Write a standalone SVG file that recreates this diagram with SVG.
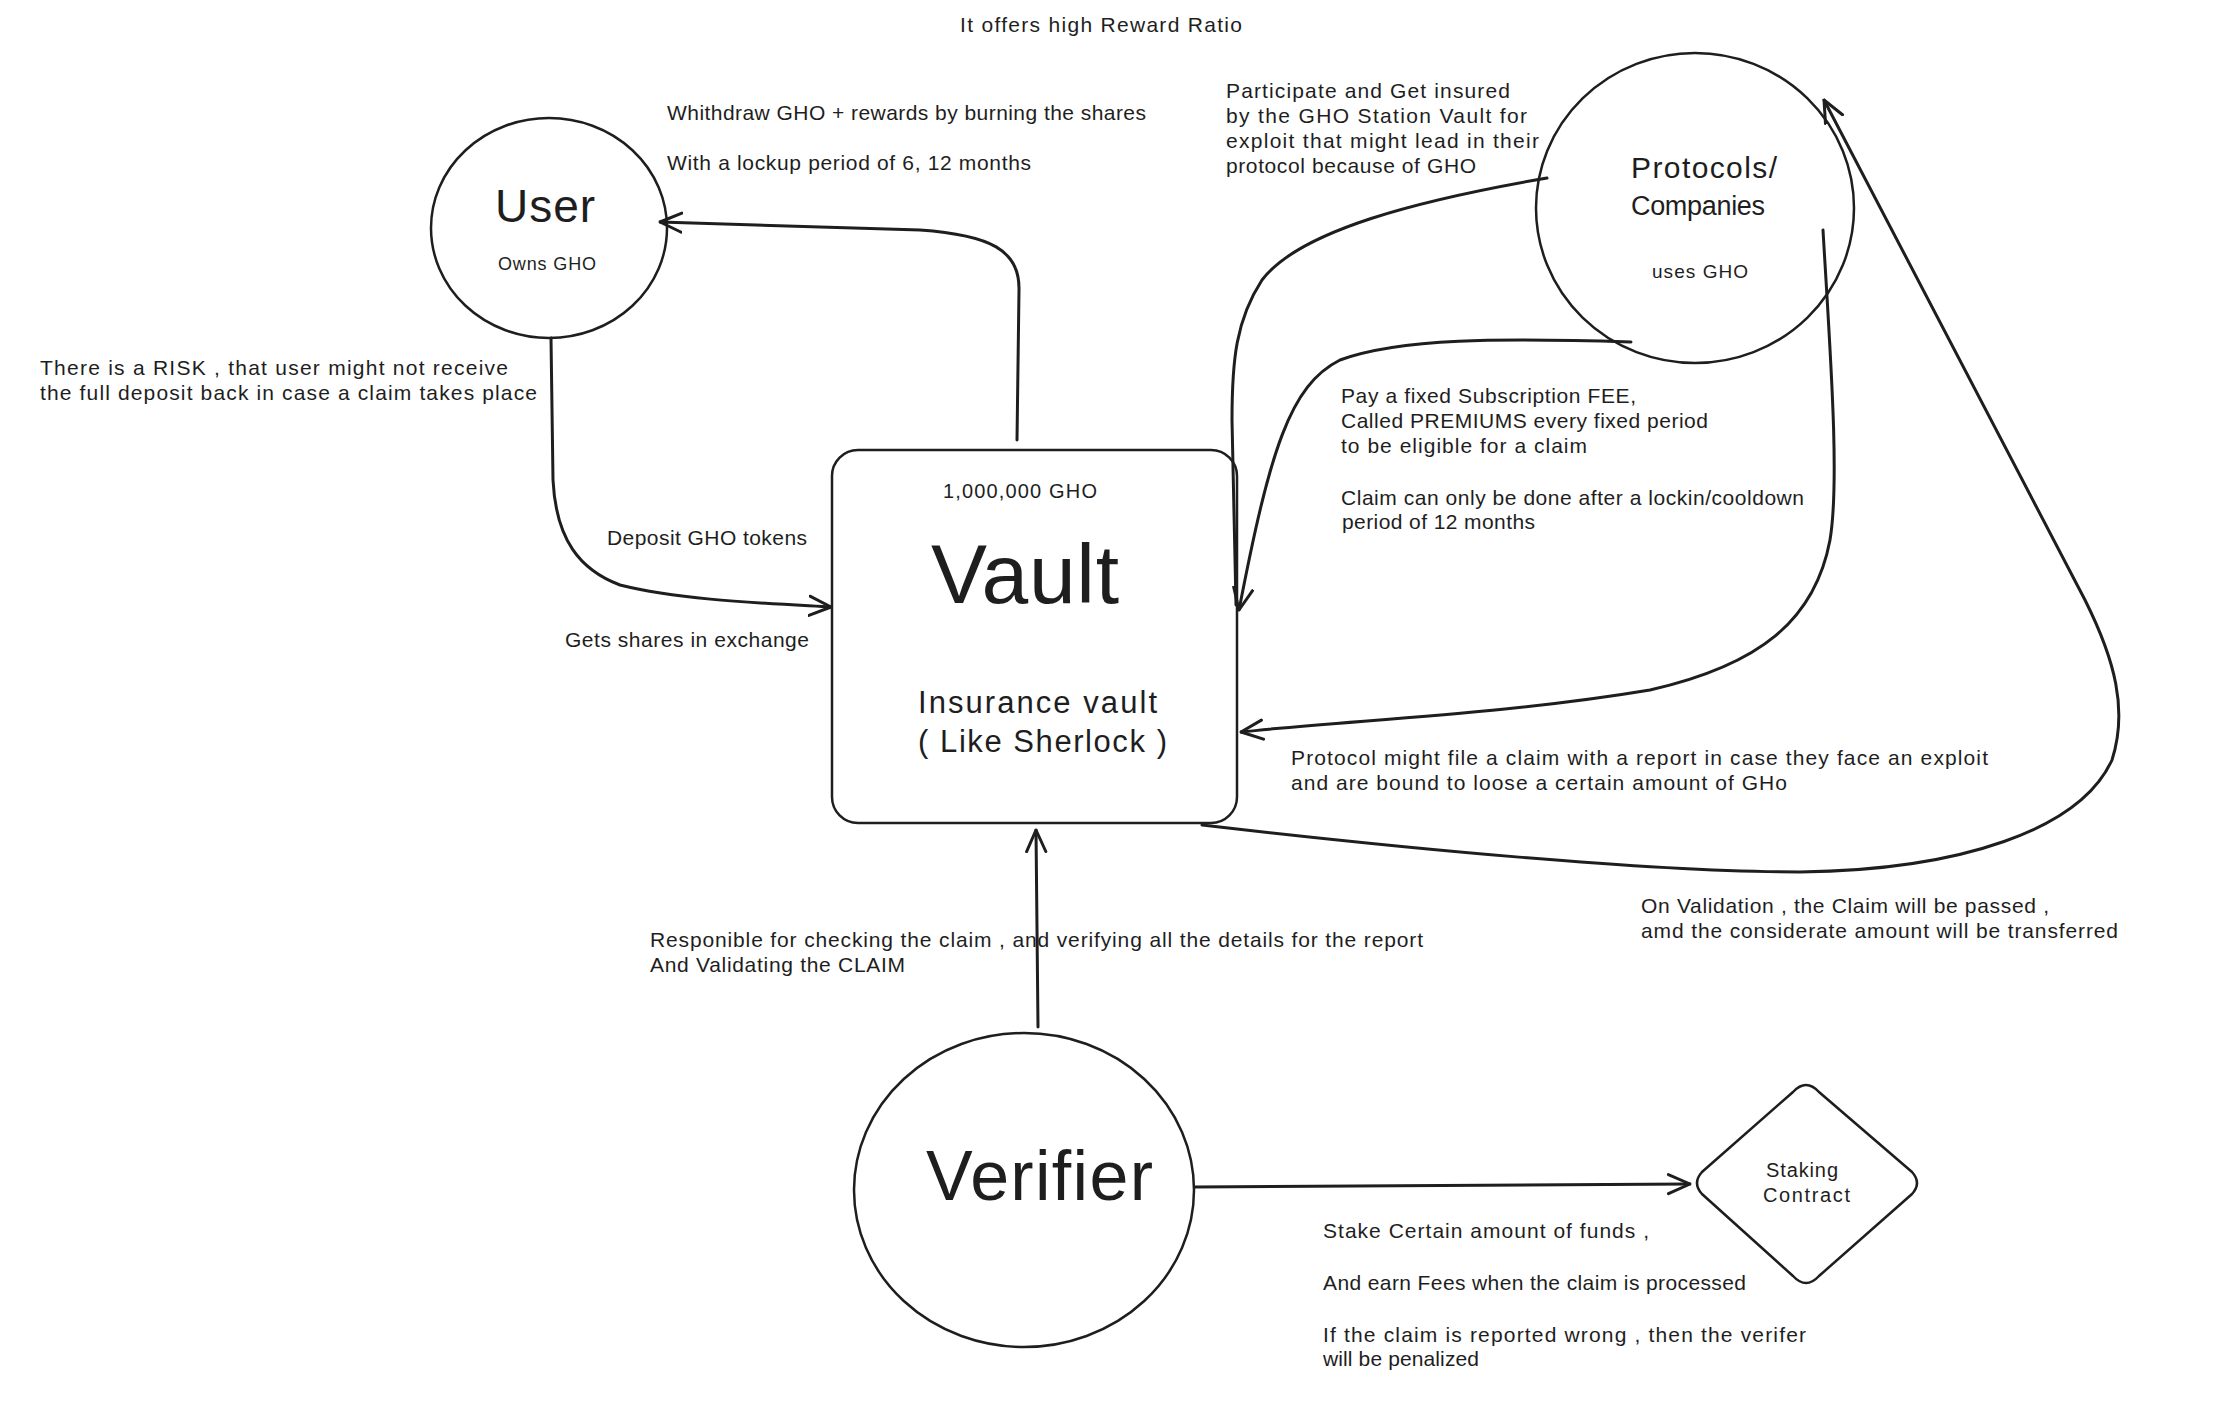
<svg xmlns="http://www.w3.org/2000/svg" width="2226" height="1418" viewBox="0 0 2226 1418">
<defs>
<style>
text{font-family:"Liberation Sans",Arial,sans-serif;fill:#1e1e1e}
.a{font-size:21px}
.n{font-size:20px}
.shape{fill:none;stroke:#1e1e1e;stroke-width:2.5}
.c{fill:none;stroke:#1e1e1e;stroke-width:3;stroke-linecap:round;stroke-linejoin:round}
</style>
<marker id="ah" viewBox="0 0 20 20" refX="19" refY="10" markerWidth="24" markerHeight="24" markerUnits="userSpaceOnUse" orient="auto">
<path d="M1,2 L19,10 L1,18" fill="none" stroke="#1e1e1e" stroke-width="2.5" stroke-linecap="round" stroke-linejoin="round"/>
</marker>
</defs>
<rect width="2226" height="1418" fill="#ffffff"/>

<g id="connectors">
<path class="c" d="M1017 440 L1019 290 C1020 250 990 235 920 230 L660 222" marker-end="url(#ah)"/>
<path class="c" d="M551 338 L553 480 C556 540 580 570 620 585 C680 600 760 603 831 607" marker-end="url(#ah)"/>
<path class="c" d="M1547 178 C1420 200 1300 230 1262 280 C1236 320 1232 360 1232 420 L1236 605"/>
<path class="c" d="M1631 342 C1500 338 1400 338 1340 360 C1290 385 1270 450 1239 610" marker-end="url(#ah)"/>
<path class="c" d="M1823 230 C1830 350 1840 480 1830 540 C1815 620 1760 665 1650 690 C1500 715 1350 720 1241 732" marker-end="url(#ah)"/>
<path class="c" d="M1202 825 C1400 848 1650 872 1800 872 C1960 870 2080 830 2112 760 C2128 710 2115 660 2085 600 L1824 100" marker-end="url(#ah)"/>
<path class="c" d="M1038 1027 L1036 830" marker-end="url(#ah)"/>
<path class="c" d="M1195 1187 L1690 1184" marker-end="url(#ah)"/>
</g>

<g id="title">
<text class="a" x="960" y="32" textLength="282">It offers high Reward Ratio</text>
</g>

<g id="user">
<ellipse class="shape" cx="549" cy="228" rx="118" ry="110"/>
<text x="495" y="222" style="font-size:46px" textLength="100">User</text>
<text x="498" y="270" style="font-size:18px" textLength="98">Owns GHO</text>
</g>

<g id="protocols">
<ellipse class="shape" cx="1695" cy="208" rx="159" ry="155"/>
<text x="1631" y="178" style="font-size:30px" textLength="146">Protocols/</text>
<text x="1631" y="215" style="font-size:27px" textLength="134">Companies</text>
<text x="1652" y="278" style="font-size:19px" textLength="96">uses GHO</text>
</g>

<g id="vault">
<rect class="shape" x="832" y="450" width="405" height="373" rx="26"/>
<text class="n" x="943" y="498" textLength="154">1,000,000 GHO</text>
<text x="931" y="603" style="font-size:84px" textLength="188">Vault</text>
<text x="918" y="713" style="font-size:31px" textLength="239">Insurance vault</text>
<text x="918" y="752" style="font-size:31px" textLength="249">( Like Sherlock )</text>
</g>

<g id="verifier">
<ellipse class="shape" cx="1024" cy="1190" rx="170" ry="157"/>
<text x="926" y="1200" style="font-size:70px" textLength="227">Verifier</text>
</g>

<g id="staking">
<path class="shape" d="M1793 1092 Q1806 1078 1819 1092 L1912 1172 Q1922 1183 1912 1194 L1819 1276 Q1806 1290 1793 1276 L1702 1194 Q1692 1183 1702 1172 Z"/>
<text class="n" x="1766" y="1177" textLength="72">Staking</text>
<text class="n" x="1763" y="1202" textLength="87">Contract</text>
</g>

<g id="labels">
<text class="a" x="667" y="120" textLength="479">Whithdraw GHO + rewards by burning the shares</text>
<text class="a" x="667" y="170" textLength="364">With a lockup period of 6, 12 months</text>

<text class="a" x="1226" y="98" textLength="284">Participate and Get insured</text>
<text class="a" x="1226" y="123" textLength="301">by the GHO Station Vault for</text>
<text class="a" x="1226" y="148" textLength="313">exploit that might lead in their</text>
<text class="a" x="1226" y="173" textLength="250">protocol because of GHO</text>

<text class="a" x="40" y="375" textLength="468">There is a RISK , that user might not receive</text>
<text class="a" x="40" y="400" textLength="497">the full deposit back in case a claim takes place</text>

<text class="a" x="607" y="545" textLength="200">Deposit GHO tokens</text>
<text class="a" x="565" y="647" textLength="244">Gets shares in exchange</text>

<text class="a" x="1341" y="403" textLength="295">Pay a fixed Subscription FEE,</text>
<text class="a" x="1341" y="428" textLength="367">Called PREMIUMS every fixed period</text>
<text class="a" x="1341" y="453" textLength="246">to be eligible for a claim</text>
<text class="a" x="1341" y="505" textLength="463">Claim can only be done after a lockin/cooldown</text>
<text class="a" x="1342" y="529" textLength="193">period of 12 months</text>

<text class="a" x="1291" y="765" textLength="697">Protocol might file a claim with a report in case they face an exploit</text>
<text class="a" x="1291" y="790" textLength="496">and are bound to loose a certain amount of GHo</text>

<text class="a" x="1641" y="913" textLength="408">On Validation , the Claim will be passed ,</text>
<text class="a" x="1641" y="938" textLength="477">amd the considerate amount will be transferred</text>

<text class="a" x="650" y="947" textLength="773">Responible for checking the claim , and verifying all the details for the report</text>
<text class="a" x="650" y="972" textLength="255">And Validating the CLAIM</text>

<text class="a" x="1323" y="1238" textLength="326">Stake Certain amount of funds ,</text>
<text class="a" x="1323" y="1290" textLength="423">And earn Fees when the claim is processed</text>
<text class="a" x="1323" y="1342" textLength="483">If the claim is reported wrong , then the verifer</text>
<text class="a" x="1323" y="1366" textLength="156">will be penalized</text>
</g>
</svg>
